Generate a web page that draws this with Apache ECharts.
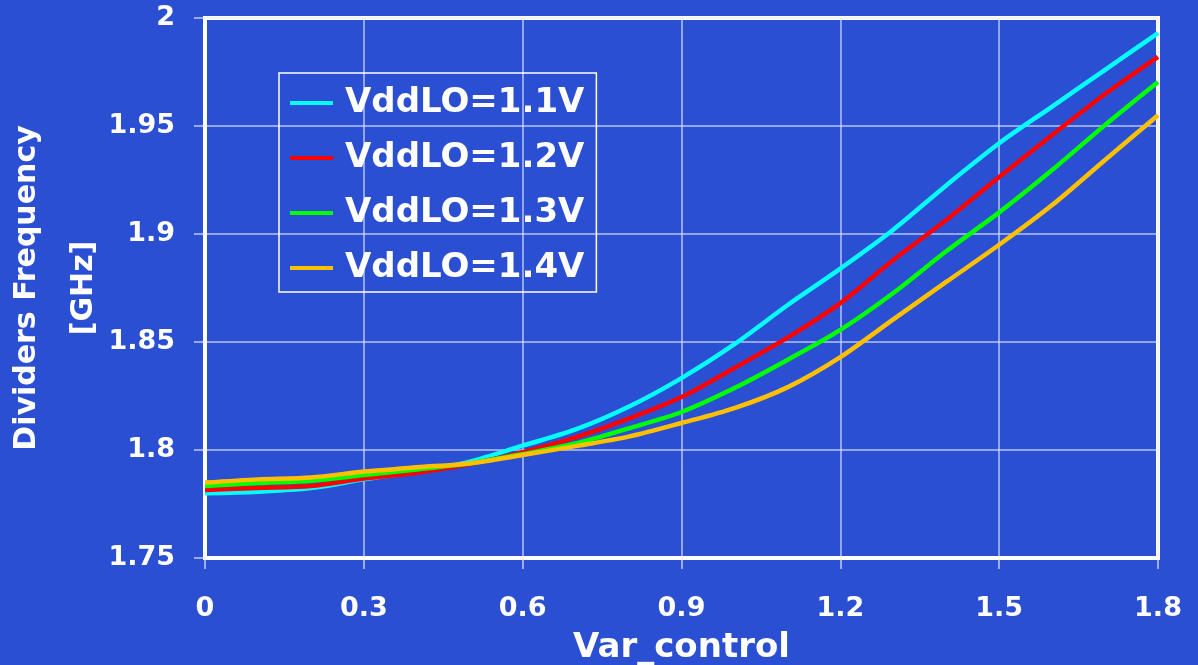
<!DOCTYPE html>
<html><head><meta charset="utf-8">
<script src="https://cdn.jsdelivr.net/npm/echarts@6/dist/echarts.min.js"></script>
<style>html,body{margin:0;padding:0;background:#2b4fd3}#c{width:1198px;height:665px}</style>
</head><body><div id="c"></div>
<script>
const xValues = [0,0.1,0.2,0.3,0.4,0.5,0.6,0.7,0.8,0.9,1.0,1.1,1.2,1.3,1.4,1.5,1.6,1.7,1.8];
const vdd11 = [1.7800,1.7807,1.7824,1.7864,1.7900,1.7946,1.8020,1.8095,1.8200,1.8333,1.8490,1.8670,1.8840,1.9020,1.9225,1.9420,1.9590,1.9760,1.9930];
const vdd12 = [1.7815,1.7824,1.7833,1.7868,1.7895,1.7935,1.7990,1.8058,1.8145,1.8245,1.8380,1.8520,1.8680,1.8880,1.9065,1.9264,1.9458,1.9648,1.9820];
const vdd13 = [1.7833,1.7847,1.7858,1.7884,1.7910,1.7938,1.7981,1.8030,1.8100,1.8176,1.8287,1.8417,1.8556,1.8727,1.8920,1.9100,1.9296,1.9505,1.9704];
const vdd14 = [1.7849,1.7864,1.7873,1.7900,1.7920,1.7938,1.7977,1.8018,1.8062,1.8125,1.8194,1.8290,1.8430,1.8605,1.8778,1.8950,1.9134,1.9343,1.9550];
const seriesNames = ['VddLO=1.1V','VddLO=1.2V','VddLO=1.3V','VddLO=1.4V'];
const seriesColors = ['#00ffff','#ff0000','#00ff00','#ffc000'];
const xTickLabels = ['0','0.3','0.6','0.9','1.2','1.5','1.8'];
const yTickLabels = ['1.75','1.8','1.85','1.9','1.95','2'];
const xTitle = 'Var_control';
const yTitle = 'Dividers Frequency\n[GHz]';

const allData = [vdd11, vdd12, vdd13, vdd14];
const FONT = 'DejaVu Sans';
const chart = echarts.init(document.getElementById('c'), null, {renderer: 'canvas'});
chart.setOption({
  animation: false,
  backgroundColor: '#2b4fd3',
  grid: {left: 205, right: 40, top: 18, bottom: 107, containLabel: false, outerBoundsMode: 'none',
    show: true, borderColor: '#ffffff', borderWidth: 4, backgroundColor: 'transparent'},
  legend: {
    orient: 'vertical', left: 279, top: 73,
    padding: [13, 12, 7, 11],
    borderColor: '#ffffff', borderWidth: 1.5,
    itemWidth: 43, itemHeight: 4, itemGap: 21,
    icon: 'rect',
    data: seriesNames,
    textStyle: {color: '#ffffff', fontSize: 34, fontWeight: 'bold', fontFamily: FONT, lineHeight: 34, padding: [0, 0, 0, 7]}
  },
  xAxis: {
    type: 'value', min: 0, max: 1.8, interval: 0.3,
    name: xTitle, nameLocation: 'middle', nameGap: 73,
    nameTextStyle: {color: '#ffffff', fontSize: 34, fontWeight: 'bold', fontFamily: FONT},
    axisLine: {show: true, lineStyle: {color: '#ffffff', width: 4}},
    axisTick: {show: true, length: 11, lineStyle: {color: 'rgba(230,235,255,0.8)', width: 1.5}},
    axisLabel: {color: '#ffffff', fontSize: 27, fontWeight: 'bold', fontFamily: FONT, margin: 37,
      formatter: v => xTickLabels[Math.round(v / 0.3)]},
    splitLine: {show: true, lineStyle: {color: 'rgba(230,235,255,0.75)', width: 1.5}}
  },
  yAxis: {
    type: 'value', min: 1.75, max: 2.0, interval: 0.05,
    name: yTitle, nameLocation: 'middle', nameGap: 92, nameMoveOverlap: false,
    nameTextStyle: {color: '#ffffff', fontSize: 30, fontWeight: 'bold', fontFamily: FONT, lineHeight: 57, align: 'center'},
    axisLine: {show: true, lineStyle: {color: '#ffffff', width: 4}},
    axisTick: {show: true, length: 11, lineStyle: {color: 'rgba(230,235,255,0.8)', width: 1.5}},
    axisLabel: {color: '#ffffff', fontSize: 27, fontWeight: 'bold', fontFamily: FONT, margin: 30,
      formatter: v => yTickLabels[Math.round((v - 1.75) / 0.05)]},
    splitLine: {show: true, lineStyle: {color: 'rgba(230,235,255,0.75)', width: 1.5}}
  },
  series: seriesNames.map((n, i) => ({
    name: n, type: 'line', smooth: 0.3, symbol: 'none',
    color: seriesColors[i],
    itemStyle: {color: seriesColors[i]},
    lineStyle: {color: seriesColors[i], width: 4.5},
    data: xValues.map((x, j) => [x, allData[i][j]])
  }))
});
</script></body></html>
